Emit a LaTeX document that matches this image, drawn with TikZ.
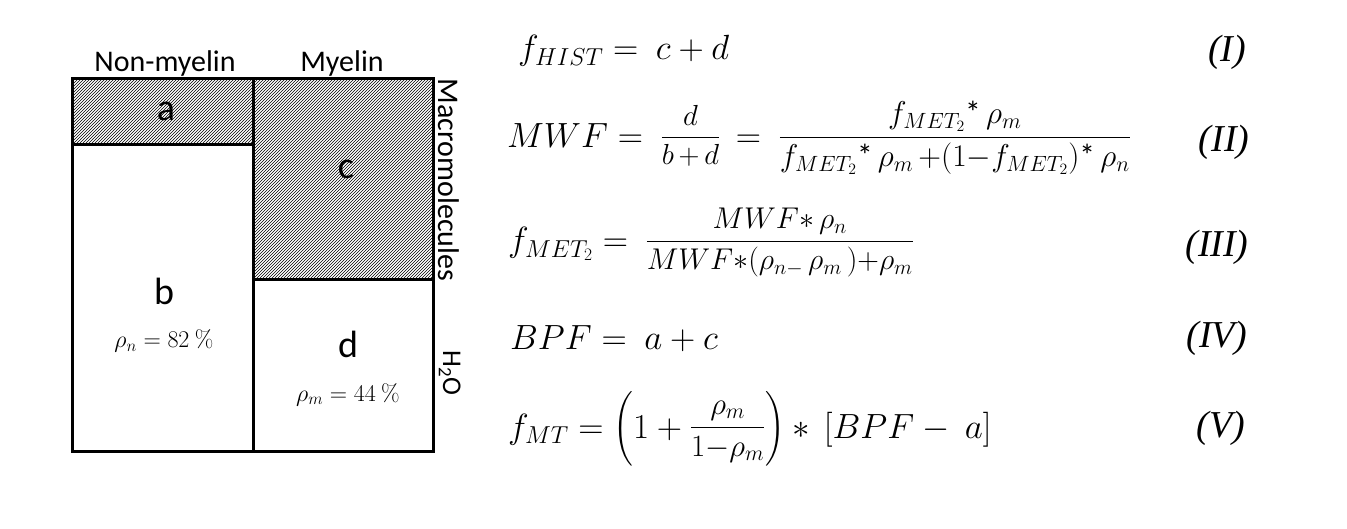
\RequirePackage{fix-cm}
\documentclass[tikz,border=0pt]{standalone}
\usepackage{amsmath}
\usepackage[no-math]{fontspec}
\setmainfont{Carlito}
\newfontfamily\tagfont{Liberation Serif}
\usetikzlibrary{patterns,positioning}

% fraction set a size below the line, without spaces round + and -
\newcommand{\eqfrac}[3][27]{\raisebox{3pt}{\fontsize{#1}{#1}\selectfont\medmuskip=0mu\thickmuskip=0mu$\displaystyle\frac{#2}{#3}$}}
\newcommand{\tast}{\text{*}}

\tikzset{
  box/.style={draw, line width=3pt, line cap=rect},
  hatch/.style={pattern=north east lines},
  letter/.style={anchor=base, inner sep=0pt, font=\fontsize{38}{40}\selectfont},
  header/.style={anchor=base, inner sep=0pt, font=\fontsize{30}{32}\selectfont},
  density/.style={anchor=base, inner sep=0pt, font=\fontsize{24}{26}\selectfont},
  eqn/.style={anchor=base west, inner sep=0pt, font=\fontsize{35}{38}\selectfont},
  eqtag/.style={anchor=base, inner sep=0pt, font=\fontsize{38}{40}\selectfont\tagfont\itshape}
}

\begin{document}
\begin{tikzpicture}[x=1pt,y=-1pt]
    \useasboundingbox (0,0) rectangle (1347,529);

    % compartments
    \fill[hatch] (72,79) rectangle (253,145);
    \fill[hatch] (253,79) rectangle (433,280);
    \draw[box] (72,79) rectangle (433,451);
    \draw[box] (253,79) -- (253,451);
    \draw[box] (72,145) -- (253,145);
    \draw[box] (253,280) -- (433,280);

    \node[header] (nonmyelin) at (165,72) {Non-myelin};
    \node[header] (myelin) at (342,72) {Myelin};
    \node[header, rotate=-90, anchor=base] (macro) at (438,180) {Macromolecules};
    \node[header, rotate=-90, anchor=base, font=\fontsize{27}{29}\selectfont] (water) at (443,373) {H\textsubscript{2}O};

    \node[letter] (a) at (166,121) {a};
    \node[letter] (c) at (346,179) {c};
    \node[letter] (b) at (164,305) {b};
    \node[letter] (d) at (348,357) {d};
    \node[density] (rhon) at (164,348) {$\rho_n = 82\ \%$};
    \node[density] (rhom) at (348,401) {$\rho_m = 44\ \%$};

    % equations
    \node[eqn] (eq1) at (518,60) {$f_{HIST} = \ c + d$};
    \node[eqn] (eq2) at (507,148) {$MWF = \ \eqfrac[29]{d}{b\,+\,d}\, = \ \eqfrac[31.5]{f_{MET_2}\tast\,\rho_m}{f_{MET_2}\tast\,\rho_m\, +(1-f_{MET_2})\tast\,\rho_n}$};
    \node[eqn] (eq3) at (508,252) {$f_{MET_2} = \ \eqfrac[30]{MWF\ast\,\rho_n}{MWF\ast(\rho_{n-}\,\rho_m\,)+\rho_m}$};
    \node[eqn] (eq4) at (510,349) {$BPF = \ a + c$};
    \node[eqn] (eq5) at (508,438) {$f_{MT} = \left(1 + \eqfrac[31]{\rho_m}{1-\rho_m}\right) \ast\, [BPF - \ a]$};

    \node[eqtag] (tag1) at (1227,62) {(I)};
    \node[eqtag] (tag2) at (1224,152) {(II)};
    \node[eqtag] (tag3) at (1217,257) {(III)};
    \node[eqtag] (tag4) at (1217,348) {(IV)};
    \node[eqtag] (tag5) at (1221,437) {(V)};
\end{tikzpicture}
\end{document}
